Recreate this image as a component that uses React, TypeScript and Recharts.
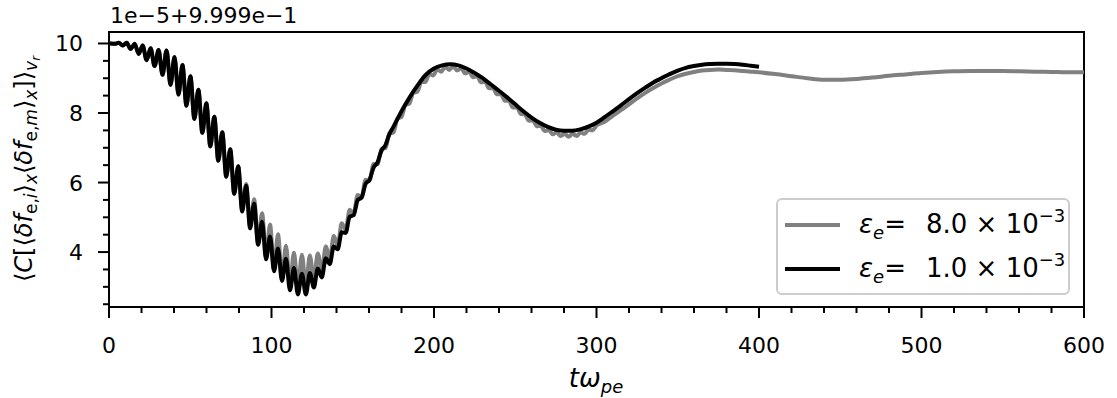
import React from "react";
import { LineChart, Line, XAxis, YAxis, ReferenceArea, Legend } from "recharts";

// sample times of the fast wiggles (peak / trough alternation), then smooth tails
const sampleT = [
  0, 1.1, 3.55, 6, 8.45, 10.9, 13.35, 15.8, 18.25, 20.7, 23.15, 25.6, 28.05, 30.5, 32.95, 35.4,
  37.85, 40.3, 42.75, 45.2, 47.65, 50.1, 52.55, 55, 57.45, 59.9, 62.35, 64.8, 67.25, 69.7, 72.15,
  74.6, 77.05, 79.5, 81.95, 84.4, 86.85, 89.3, 91.75, 94.2, 96.65, 99.1, 101.55, 104, 106.45,
  108.9, 111.35, 113.8, 116.25, 118.7, 121.15, 123.6, 126.05, 128.5, 130.95, 133.4, 135.85, 138.3,
  140.75, 143.2, 145.65, 148.1, 150.55, 153, 155.45, 157.9, 160.35, 162.8, 165.25, 167.7, 170.15,
  172.6, 175.05, 177.5, 179.95, 182.4, 184.85, 187.3, 189.75, 192.2, 194.65, 197.1, 199.55, 202,
  204.45, 206.9, 209.35, 211.8, 214.25, 216.7, 219.15, 221.6, 224.05, 226.5, 228.95, 231.4,
  233.85, 236.3, 238.75, 241.2, 243.65, 246.1, 248.55, 251, 253.45, 255.9, 258.35, 260.8, 263.25,
  265.7, 268.15, 270.6, 273.05, 275.5, 277.95, 280.4, 282.85, 285.3, 287.75, 290.2, 292.65,
  295.1, 297.55, 300,
];

// both runs coincide up to t ~ 80
const sharedEarlyV = [
  10.0, 10.0, 9.99, 10.02, 9.94, 10.02, 9.84, 9.99, 9.7, 9.94, 9.52, 9.86, 9.35, 9.81, 9.1, 9.8,
  8.81, 9.61, 8.53, 9.38, 8.21, 9.06, 7.83, 8.67, 7.43, 8.28, 7.04, 7.89, 6.63, 7.45, 6.17, 6.96,
  5.68, 6.47,
];

const blackMidV = [
  5.17, 5.91, 4.68, 5.39, 4.21, 4.87, 3.79, 4.45, 3.45, 4.1, 3.17, 3.81, 2.9, 3.54, 2.78, 3.38,
  2.78, 3.4, 2.98, 3.53, 3.27, 3.82, 3.65, 4.16, 4.08, 4.57, 4.55, 5.02, 5.06, 5.49, 5.57, 5.96,
  6.08, 6.43, 6.58, 6.92, 7.08, 7.4,
];

const grayMidV = [
  5.22, 5.96, 4.74, 5.52, 4.28, 5.12, 3.87, 4.79, 3.51, 4.51, 3.21, 4.18, 3.05, 3.98, 3.0, 3.92,
  3.03, 3.9, 3.2, 3.96, 3.46, 4.16, 3.79, 4.46, 4.2, 4.83, 4.65, 5.22, 5.11, 5.64, 5.58, 6.08,
  6.06, 6.53, 6.53, 6.97, 6.99, 7.41, 7.44, 7.84, 7.88, 8.23, 8.27, 8.59, 8.61, 8.89, 8.89, 9.12,
  9.08, 9.26, 9.19, 9.33, 9.24, 9.34, 9.22, 9.29, 9.14, 9.19, 9.03, 9.06, 8.88, 8.9, 8.71, 8.72,
  8.54, 8.54, 8.35, 8.35, 8.16, 8.16, 7.97, 7.96, 7.78, 7.79, 7.62, 7.63, 7.48, 7.51, 7.39, 7.44,
  7.34, 7.4, 7.32, 7.4, 7.34, 7.44, 7.4, 7.52, 7.5, 7.64,
];

const blackTailT = [
  175, 180, 185, 190, 195, 200, 205, 210, 215, 220, 225, 230, 235, 240, 245, 250, 255, 260, 265,
  270, 275, 280, 285, 290, 295, 300, 305, 310, 315, 320, 325, 330, 335, 340, 345, 350, 355, 360,
  365, 370, 375, 380, 385, 390, 395, 400,
];
const blackTailV = [
  7.6, 8.05, 8.45, 8.8, 9.1, 9.28, 9.37, 9.4, 9.37, 9.28, 9.15, 9.0, 8.82, 8.64, 8.45, 8.25, 8.05,
  7.87, 7.72, 7.6, 7.52, 7.49, 7.49, 7.53, 7.61, 7.72, 7.88, 8.05, 8.22, 8.4, 8.57, 8.73, 8.88,
  9.0, 9.12, 9.22, 9.3, 9.35, 9.39, 9.41, 9.42, 9.42, 9.41, 9.39, 9.36, 9.33,
];

const grayTailT = [
  305, 310, 315, 320, 325, 330, 335, 340, 345, 350, 355, 360, 365, 370, 375, 380, 385, 390, 395,
  400, 410, 420, 430, 440, 450, 460, 470, 480, 490, 500, 510, 520, 530, 540, 550, 560, 570, 580,
  590, 600,
];
const grayTailV = [
  7.75, 7.92, 8.08, 8.25, 8.42, 8.58, 8.72, 8.85, 8.96, 9.06, 9.13, 9.18, 9.22, 9.24, 9.25, 9.24,
  9.23, 9.21, 9.19, 9.17, 9.12, 9.06, 9.0, 8.96, 8.96, 8.98, 9.02, 9.07, 9.11, 9.15, 9.18, 9.2,
  9.21, 9.21, 9.21, 9.2, 9.19, 9.18, 9.17, 9.17,
];

const seriesNames = ["8.0", "1.0"];
const seriesColors = ["#808080", "#000000"];

const xTicks = [
  0, 20, 40, 60, 80, 100, 120, 140, 160, 180, 200, 220, 240, 260, 280, 300, 320, 340, 360, 380,
  400, 420, 440, 460, 480, 500, 520, 540, 560, 580, 600,
];
const yTicks = [2.5, 3, 3.5, 4, 4.5, 5, 5.5, 6, 6.5, 7, 7.5, 8, 8.5, 9, 9.5, 10];
const xDomain = [0, 600];
const yDomain = [2.42, 10.33];

const zip = (ts: number[], vs: number[]) => vs.map((v, i) => ({ t: ts[i], v }));

const grayData = [...zip(sampleT, sharedEarlyV.concat(grayMidV)), ...zip(grayTailT, grayTailV)];
const blackData = [...zip(sampleT, sharedEarlyV.concat(blackMidV)), ...zip(blackTailT, blackTailV)];

const FONT = "DejaVu Sans";

const XTick = (p: any) => {
  const v = p.payload.value;
  const major = v % 100 === 0;
  return (
    <g>
      <line x1={p.x} x2={p.x} y1={p.y} y2={p.y + (major ? 11 : 6)} stroke="#000" strokeWidth={2} />
      {major && (
        <text x={p.x} y={p.y + 46} textAnchor="middle" fontSize={22} fontFamily={FONT} fill="#000">
          {v}
        </text>
      )}
    </g>
  );
};

const YTick = (p: any) => {
  const v = p.payload.value;
  const major = v % 2 === 0;
  return (
    <g>
      <line x1={p.x} x2={p.x - (major ? 11 : 6)} y1={p.y} y2={p.y} stroke="#000" strokeWidth={2} />
      {major && (
        <text x={p.x - 26} y={p.y + 8} textAnchor="end" fontSize={22} fontFamily={FONT} fill="#000">
          {v}
        </text>
      )}
    </g>
  );
};

const LegendBox = (props: any) => {
  const items = [...(props.payload || [])].sort(
    (a: any, b: any) => seriesNames.indexOf(a.value) - seriesNames.indexOf(b.value)
  );
  return (
    <svg width={294} height={97} style={{ display: "block" }}>
      <rect x={1} y={1} width={292} height={95} rx={5} fill="#fff" fillOpacity={0.8} stroke="#cccccc" strokeWidth={2} />
      {items.map((it: any, i: number) => {
        const cy = 27 + i * 44;
        return (
          <g key={i}>
            <line x1={9} x2={64} y1={cy} y2={cy} stroke={it.color} strokeWidth={4} />
            <text x={83} y={cy + 8} fontSize={26} fontFamily={FONT} fill="#000">
              <tspan fontStyle="italic">ε</tspan>
              <tspan fontStyle="italic" fontSize={18} dy={6}>e</tspan>
              <tspan dy={-6}>=</tspan>
              <tspan x={150}>{it.value} × 10</tspan>
              <tspan fontSize={18} dy={-11}>−3</tspan>
            </text>
          </g>
        );
      })}
    </svg>
  );
};

export default function App() {
  return (
    <div style={{ position: "absolute", left: 0, top: 0, width: 1117, height: 398, background: "#fff" }}>
      <LineChart width={1117} height={398} margin={{ top: 32, right: 33, bottom: 0, left: 0 }}>
        <XAxis
          type="number"
          dataKey="t"
          domain={xDomain}
          ticks={xTicks}
          interval={0}
          allowDataOverflow
          height={91}
          axisLine={false}
          tickLine={false}
          tickSize={0}
          tickMargin={0}
          tick={<XTick />}
        />
        <YAxis
          type="number"
          dataKey="v"
          domain={yDomain}
          ticks={yTicks}
          interval={0}
          allowDataOverflow
          width={109}
          axisLine={false}
          tickLine={false}
          tickSize={0}
          tickMargin={0}
          tick={<YTick />}
        />
        <Line
          data={grayData}
          dataKey="v"
          name={seriesNames[0]}
          type="monotone"
          stroke={seriesColors[0]}
          strokeWidth={4}
          dot={false}
          activeDot={false}
          isAnimationActive={false}
        />
        <Line
          data={blackData}
          dataKey="v"
          name={seriesNames[1]}
          type="monotone"
          stroke={seriesColors[1]}
          strokeWidth={4}
          dot={false}
          activeDot={false}
          isAnimationActive={false}
        />
        <ReferenceArea
          x1={xDomain[0]}
          x2={xDomain[1]}
          y1={yDomain[0]}
          y2={yDomain[1]}
          fill="#fff"
          fillOpacity={0}
          stroke="#000"
          strokeWidth={2}
          ifOverflow="visible"
        />
        <Legend
          layout="horizontal"
          verticalAlign="middle"
          align="center"
          wrapperStyle={{ left: 776, top: 198, width: 294, height: 97 }}
          content={<LegendBox />}
        />
      </LineChart>
      <svg
        width={1117}
        height={398}
        style={{ position: "absolute", left: 0, top: 0, pointerEvents: "none" }}
      >
        <text x={110} y={23} fontSize={22} fontFamily={FONT} fill="#000">
          1e−5+9.999e−1
        </text>
        <text x={596} y={387} textAnchor="middle" fontSize={26} fontFamily={FONT} fill="#000">
          <tspan fontStyle="italic">tω</tspan>
          <tspan fontStyle="italic" fontSize={18} dy={6}>pe</tspan>
        </text>
        <text transform="translate(32,169) rotate(-90)" textAnchor="middle" fontSize={24} fontFamily={FONT} fill="#000">
          <tspan>⟨</tspan>
          <tspan fontStyle="italic">C</tspan>
          <tspan>[⟨</tspan>
          <tspan fontStyle="italic">δf</tspan>
          <tspan fontSize={17} dy={5}>e,</tspan>
          <tspan fontSize={17} fontStyle="italic">i</tspan>
          <tspan dy={-5}>⟩</tspan>
          <tspan fontSize={17} fontStyle="italic" dy={5}>x</tspan>
          <tspan dy={-5}>⟨</tspan>
          <tspan fontStyle="italic">δf</tspan>
          <tspan fontSize={17} dy={5}>e,</tspan>
          <tspan fontSize={17} fontStyle="italic">m</tspan>
          <tspan dy={-5}>⟩</tspan>
          <tspan fontSize={17} fontStyle="italic" dy={5}>x</tspan>
          <tspan dy={-5}>]⟩</tspan>
          <tspan fontSize={17} fontStyle="italic" dy={5}>v</tspan>
          <tspan fontSize={12} fontStyle="italic" dy={3}>r</tspan>
        </text>
      </svg>
    </div>
  );
}
